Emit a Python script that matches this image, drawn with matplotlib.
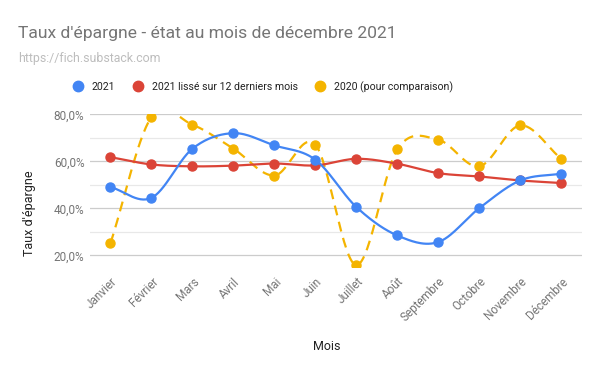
import numpy as np
import matplotlib.pyplot as plt
from matplotlib.lines import Line2D

plt.rcParams['font.family'] = ['Roboto', 'DejaVu Sans']

mois = ["Janvier", "Février", "Mars", "Avril", "Mai", "Juin", "Juillet",
        "Août", "Septembre", "Octobre", "Novembre", "Décembre"]
taux_2021 = [49.1, 44.5, 65.4, 72.0, 66.8, 60.7, 40.6, 28.5, 25.7, 40.1, 51.9, 54.8]
taux_2021_lisse = [61.8, 58.7, 57.9, 58.2, 59.1, 58.3, 61.1, 59.0, 55.0, 53.6, 51.9, 50.8]
taux_2020 = [25.2, 78.9, 75.6, 65.4, 54.0, 67.1, 15.9, 65.1, 69.2, 57.9, 75.3, 61.1]

BLUE = "#4285F4"
RED = "#DB4437"
YELLOW = "#F4B400"


def smooth(y, n=30):
    # catmull-rom between the points, just for drawing the curve
    y = np.asarray(y, dtype=float)
    p = np.concatenate([[2 * y[0] - y[1]], y, [2 * y[-1] - y[-2]]])
    xs, ys = [], []
    t = np.linspace(0, 1, n, endpoint=False)
    for i in range(len(y) - 1):
        p0, p1, p2, p3 = p[i], p[i + 1], p[i + 2], p[i + 3]
        seg = 0.5 * ((2 * p1) + (-p0 + p2) * t + (2 * p0 - 5 * p1 + 4 * p2 - p3) * t ** 2
                     + (-p0 + 3 * p1 - 3 * p2 + p3) * t ** 3)
        xs.append(i + t)
        ys.append(seg)
    xs.append([len(y) - 1])
    ys.append([y[-1]])
    return np.concatenate(xs), np.concatenate(ys)


fig = plt.figure(figsize=(6, 3.71), dpi=100)
ax = fig.add_axes([0.15, 0.281, 0.8195, 0.412])

x = np.arange(len(mois))

xs, ys = smooth(taux_2020)
ax.plot(xs, ys, color=YELLOW, lw=1.6, dashes=(4.5, 3), zorder=3)
ax.plot(x, taux_2020, 'o', color=YELLOW, ms=6.5, zorder=4)

xs, ys = smooth(taux_2021_lisse)
ax.plot(xs, ys, color=RED, lw=1.6, zorder=5)
ax.plot(x, taux_2021_lisse, 'o', color=RED, ms=6.5, zorder=6)

xs, ys = smooth(taux_2021)
ax.plot(xs, ys, color=BLUE, lw=1.6, zorder=7)
ax.plot(x, taux_2021, 'o', color=BLUE, ms=6.5, zorder=8)

ax.set_xlim(-0.5, len(mois) - 0.5)
ax.set_ylim(15.2, 80.2)
ax.set_yticks([20, 40, 60, 80])
ax.set_yticklabels(["20,0%", "40,0%", "60,0%", "80,0%"])
ax.set_yticks([30, 50, 70], minor=True)
ax.grid(axis='y', which='major', color='#cccccc', lw=0.9)
ax.grid(axis='y', which='minor', color='#e8e8e8', lw=0.9)
ax.set_axisbelow(True)
for s in ax.spines.values():
    s.set_visible(False)
ax.tick_params(axis='both', which='both', length=0, colors='#757575', labelsize=8.5)
ax.tick_params(axis='y', pad=4)

ax.set_xticks(x)
ax.set_xticklabels(mois, rotation=45, ha='right', rotation_mode='anchor', color='#757575')
ax.tick_params(axis='x', pad=6)

ax.set_xlabel("Mois", fontsize=9, color='#222222')
ax.set_ylabel("Taux d'épargne", fontsize=9, color='#222222')
ax.xaxis.set_label_coords(0.482, -0.48)
ax.yaxis.set_label_coords(-0.11, 0.35)

fig.text(0.03, 0.897, "Taux d'épargne - état au mois de décembre 2021",
         fontsize=12.6, color='#757575')
fig.text(0.03, 0.832, "https://fich.substack.com", fontsize=8.9, color='#bdbdbd')

handles = [Line2D([], [], marker='o', ls='none', color=c, ms=7.5)
           for c in (BLUE, RED, YELLOW)]
labels = ["2021", "2021 lissé sur 12 derniers mois", "2020 (pour comparaison)"]
fig.legend(handles, labels, loc='center', bbox_to_anchor=(0.434, 0.766), ncol=3,
           frameon=False, fontsize=7.6, handletextpad=0.3, columnspacing=1.15,
           labelcolor='#222222')

fig.savefig("out.png", dpi=100)
